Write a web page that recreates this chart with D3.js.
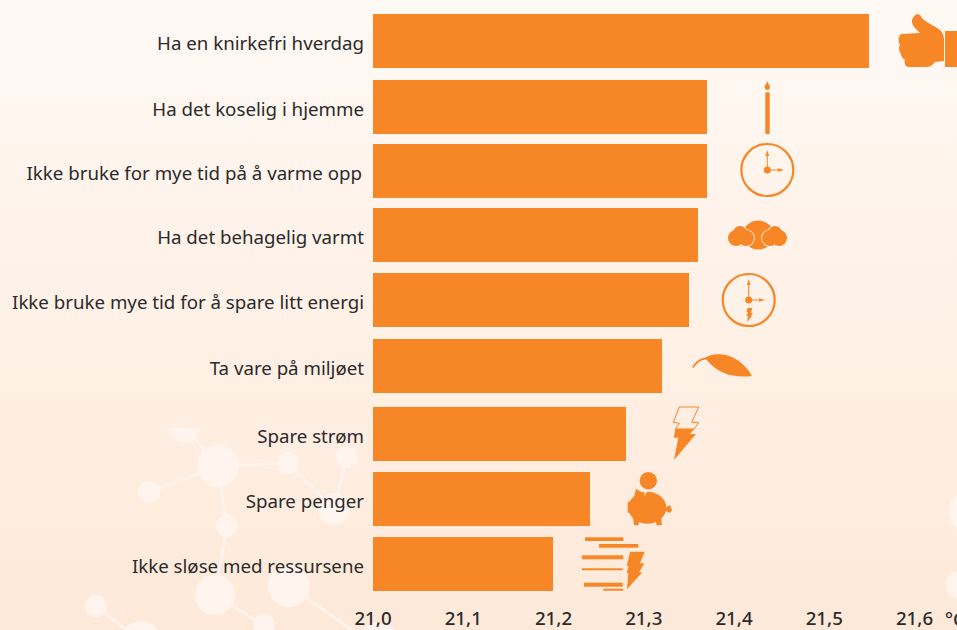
<!DOCTYPE html>
<html><head><meta charset="utf-8">
<script src="https://cdnjs.cloudflare.com/ajax/libs/d3/7.8.5/d3.min.js"></script>
<style>html,body{margin:0;padding:0;overflow:hidden;background:#fff}svg{display:block}</style>
</head><body><svg id="c" width="957" height="630"></svg>
<script>
const categories = ["Ha en knirkefri hverdag","Ha det koselig i hjemme","Ikke bruke for mye tid på å varme opp","Ha det behagelig varmt","Ikke bruke mye tid for å spare litt energi","Ta vare på miljøet","Spare strøm","Spare penger","Ikke sløse med ressursene"];
const values = [21.55,21.37,21.37,21.36,21.35,21.32,21.28,21.24,21.20];
const tickValues = [21.0,21.1,21.2,21.3,21.4,21.5,21.6];
const unit = "°C";

const ORANGE="#f78626", INK="#2b2a2b", BUB="#fff5ee";
const svg=d3.select("#c");
const defs=svg.append("defs");
const g=defs.append("linearGradient").attr("id","bg").attr("x1",0).attr("x2",0).attr("y1",0).attr("y2",1);
g.append("stop").attr("offset",0).attr("stop-color","#fff9f4");
g.append("stop").attr("offset",1).attr("stop-color","#fee9d9");
svg.append("rect").attr("width",957).attr("height",630).attr("fill","url(#bg)");

// decorative molecule backdrop
const nodes=[[218,466,21],[288,463,11],[347,457,11],[149,492,11],[227,526,11],[334,509,16],[215,595,20],[289,586,21],[96,606,11],[141,641,20],[264,625,11],[378,648,25],[971,512,22],[960,585,14]];
const links=[[185,428,218,466],[218,466,288,463],[218,466,149,492],[218,466,227,526],[288,463,334,509],[347,457,334,509],[227,526,215,595],[215,595,264,625],[289,586,378,648],[96,606,141,641]];
const bd=svg.append("g");
bd.selectAll("line").data(links).join("line").attr("x1",d=>d[0]).attr("y1",d=>d[1]).attr("x2",d=>d[2]).attr("y2",d=>d[3]).attr("stroke",BUB).attr("stroke-width",2.5);
bd.append("path").attr("d","M170,428A15,15 0 0 0 200,428Z").attr("fill",BUB);
bd.selectAll("circle").data(nodes).join("circle").attr("cx",d=>d[0]).attr("cy",d=>d[1]).attr("r",d=>d[2]).attr("fill",BUB);

const x=d3.scaleLinear().domain([21.0,21.6]).range([373,914.5]);
const y=d3.scaleOrdinal().domain(categories).range([41,107,171,235,300,366,434,499,564]);
const barH=54;

svg.append("g").selectAll("rect").data(categories).join("rect")
  .attr("x",x(21.0)).attr("y",d=>y(d)-barH/2)
  .attr("width",(d,i)=>Math.round(x(values[i]))-x(21.0)).attr("height",barH).attr("fill",ORANGE);

const font="'Noto Sans', sans-serif";
svg.append("g").selectAll("text").data(categories).join("text")
  .attr("x",(d,i)=>i===2?362:364).attr("y",d=>y(d)+9).attr("text-anchor","end")
  .attr("font-family",font).attr("font-size",18.7).attr("fill",INK).text(d=>d);

const axis=d3.axisBottom(x).tickValues(tickValues).tickSize(0).tickPadding(0).tickFormat(d=>d3.format(".1f")(d).replace(".",","));
const ax=svg.append("g").attr("transform","translate(-0.5,612)").call(axis);
ax.select(".domain").remove();
ax.selectAll("text").attr("font-family",font).attr("font-size",18.7).attr("fill",INK).attr("font-weight",500);
svg.append("text").attr("x",945).attr("y",626).attr("font-family",font).attr("font-size",18.7).attr("fill",INK).attr("font-weight",500).text(unit);

// icons
const ic=svg.append("g").attr("fill",ORANGE);
const P=(d,extra={})=>{const p=ic.append("path").attr("d",d);for(const k in extra)p.attr(k,extra[k]);return p;};
const C=(cx,cy,r,extra={})=>{const p=ic.append("circle").attr("cx",cx).attr("cy",cy).attr("r",r);for(const k in extra)p.attr(k,extra[k]);return p;};
// thumb
P("M917,14L920,15C923,22 934,25 940,30C943,33 944,36 944,40L944,61L935,62C933,64 931,67 927,67L908,67C905,66 904,63 905,60C902,58 901,56 901,54C899,51 898,48 900,45C898,42 898,36 901,34L920,33C916,29 911,25 912,20C913,17 915,15 917,14Z");
ic.append("rect").attr("x",945).attr("y",31).attr("width",12).attr("height",36);
// candle
ic.append("rect").attr("x",765.3).attr("y",92.3).attr("width",4.4).attr("height",41.7).attr("rx",1);
P("M767.3,81C768,84 770,85 770,87C770,89 769,90 767.3,90C765.6,90 764.6,89 764.6,87C764.6,85 766.6,84 767.3,81Z");
// clocks
function clock(cx,cy,upY,rx){
  C(cx,cy,26,{fill:"none",stroke:ORANGE,"stroke-width":2.2});
  C(cx,cy,3.5);
  ic.append("line").attr("x1",cx).attr("x2",cx).attr("y1",cy).attr("y2",upY+4).attr("stroke",ORANGE).attr("stroke-width",1);
  ic.append("line").attr("x1",cx).attr("x2",rx-4).attr("y1",cy).attr("y2",cy).attr("stroke",ORANGE).attr("stroke-width",1);
  P(`M${cx},${upY}L${cx+1.8},${upY+6}L${cx-1.8},${upY+6}Z`);
  P(`M${rx},${cy}L${rx-6},${cy+1.8}L${rx-6},${cy-1.8}Z`);
}
clock(767.3,170,150,784);
clock(748.7,300,279,765);
P("M747.5,308L752.5,308L750.7,313L753,313L751,316L752,316L747,322L748,316L746.5,316L748,312L746.5,312Z");
// clouds
ic.append("ellipse").attr("cx",758.3).attr("cy",235).attr("rx",15.5).attr("ry",14.5);
const bgC="#fff4ec";
[[736,238,8],[740,233,7],[746,238,8]].forEach(c=>C(c[0],c[1],c[2]+0.8,{fill:bgC}));
[[779,238,8],[775,233,7],[770,238,8]].forEach(c=>C(c[0],c[1],c[2]+0.8,{fill:bgC}));
[[736,238,8],[740,233,7],[746,238,8],[779,238,8],[775,233,7],[770,238,8]].forEach(c=>C(c[0],c[1],c[2]));
// leaf
P("M705,358C712,352 737,350 752,376C735,378 718,375 705,358Z");
P("M693,367.5C697,360 703,357 716,358",{fill:"none",stroke:ORANGE,"stroke-width":1.8});
// bolt
P("M679.3,407L698.7,407L691.7,422.3L698.7,422.7L694,429L675.3,429L679.3,423.3L673.3,422.3Z",{fill:"none",stroke:ORANGE,"stroke-width":1});
P("M675.3,429L694,429L690,434L696,434L674,460L678.3,437.7L673.7,437.7Z");
// piggy
C(648.3,480.7,8.7);
ic.append("ellipse").attr("cx",647.3).attr("cy",507.7).attr("rx",19).attr("ry",16);
P("M636,489L645,494L632,505Z");
ic.append("rect").attr("x",627.7).attr("y",501.7).attr("width",6).attr("height",11);
P("M633,518L640,520L638,525.5L634,525Z");P("M655,520L661,518L662,525L657,525.5Z");
P("M665,508L670,505L672,510L670,513L666,511Z");
P("M645,489L644,496L648,491Z",{fill:"#feeddf"});
// speed lines + bolt
[[585,623.3,537.3,541],[599,638.3,544,547.7],[582,623.3,555.3,559.3],[582,622.7,568.3,570.3],[584,622.7,582.7,586.7],[603.3,623.3,588.7,590.7]].forEach(r=>
  ic.append("rect").attr("x",r[0]).attr("y",r[2]).attr("width",r[1]-r[0]).attr("height",r[3]-r[2]));
P("M630,551.7L644.7,551.7L640,563.3L644.3,563.3L639.3,572.3L642.3,572.3L627,589.3L628.3,573.3L626.7,573.3L628.5,566L626.7,566Z");
</script></body></html>
